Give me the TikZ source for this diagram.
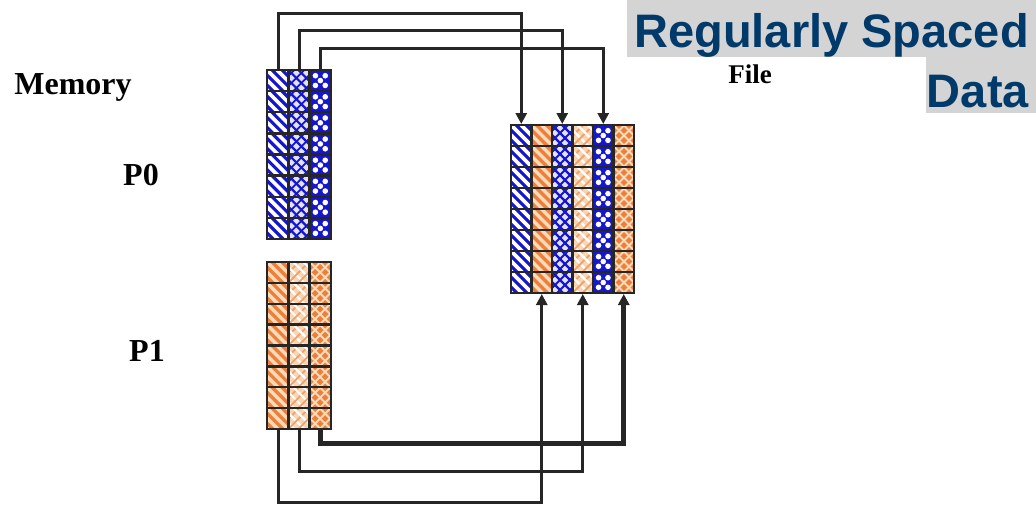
\documentclass[tikz,border=0pt]{standalone}
\usepackage{fontspec}
\setmainfont{Liberation Serif}
\newfontfamily\titlefont{Liberation Sans}
\usetikzlibrary{arrows.meta}
\definecolor{cblue}{RGB}{22,22,205}
\definecolor{clblue}{RGB}{225,225,252}
\definecolor{corange}{RGB}{236,128,58}
\definecolor{cpeach}{RGB}{248,214,180}
\definecolor{clorange}{RGB}{252,218,186}
\definecolor{ttl}{RGB}{0,58,107}
\definecolor{ttlbg}{RGB}{212,212,212}
\newcommand\cellbs[4]{%
  \fill[cblue] (#1,#2) rectangle ++(#3,#4);
  \begin{scope}\clip (#1,#2) rectangle ++(#3,#4);
  \foreach \k in {-30,-20,...,30} \draw[white,line width=3.6] ({#1+\k},{#2}) -- ++(#4,#4);
  \end{scope}}
\newcommand\cellbx[4]{%
  \fill[clblue] (#1,#2) rectangle ++(#3,#4);
  \begin{scope}\clip (#1,#2) rectangle ++(#3,#4);
  \foreach \k in {-30,-20,...,30} {\draw[cblue,line width=2.2] ({#1+\k},{#2}) -- ++(#4,#4);
    \draw[cblue,line width=1.8] ({#1+\k+5},{#2+#4}) -- ++(#4,{-#4});}
  \end{scope}}
\newcommand\cellbd[4]{%
  \fill[cblue] (#1,#2) rectangle ++(#3,#4);
  \foreach \u/\v in {.27/.27,.73/.27,.27/.73,.73/.73,.5/.5}
    \fill[white] ({#1+\u*#3},{#2+\v*#4}) circle[radius=2.8];}
\newcommand\cellos[4]{%
  \fill[corange] (#1,#2) rectangle ++(#3,#4);
  \begin{scope}\clip (#1,#2) rectangle ++(#3,#4);
  \foreach \k in {-30,-20,...,30} \draw[clorange,line width=3.4] ({#1+\k},{#2}) -- ++(#4,#4);
  \end{scope}}
\newcommand\cellop[4]{%
  \fill[cpeach] (#1,#2) rectangle ++(#3,#4);
  \begin{scope}\clip (#1,#2) rectangle ++(#3,#4);
  \foreach \k in {-30,-20,...,30} {\draw[corange!75,line width=1.8] ({#1+\k},{#2+#4}) -- ++(#4,{-#4});
    \draw[white,line width=2.2] ({#1+\k+5},{#2}) -- ++(#4,#4);}
  \end{scope}}
\newcommand\cellox[4]{%
  \fill[corange] (#1,#2) rectangle ++(#3,#4);
  \begin{scope}\clip (#1,#2) rectangle ++(#3,#4);
  \foreach \k in {-30,-20,...,30} {\draw[clorange,line width=1.9] ({#1+\k},{#2}) -- ++(#4,#4);
    \draw[clorange,line width=1.9] ({#1+\k},{#2+#4}) -- ++(#4,{-#4});}
  \end{scope}}
\tikzset{
  grid line/.style={line width=2.4,black!85},
  conn/.style={line width=3,black!85,-{Triangle[width=11pt,length=11pt]}},
  connb/.style={conn,line width=5},
  lbl/.style={font=\bfseries\fontsize{32}{32}\selectfont,inner sep=0pt},
  blockarea/.style={rectangle,inner sep=0pt,anchor=north west}
}
\begin{document}
\begin{tikzpicture}[x=1pt,y=-1pt]
\useasboundingbox (0,0) rectangle (1036,504);
% title
\fill[ttlbg] (627,0) rectangle (1036,57);
\fill[ttlbg] (926,57) rectangle (1036,113);
\node[anchor=base east,inner sep=0pt,text=ttl,font=\titlefont\bfseries\fontsize{47}{47}\selectfont] (t1) at (1029,47) {Regularly Spaced};
\node[anchor=base east,inner sep=0pt,text=ttl,font=\titlefont\bfseries\fontsize{47}{47}\selectfont] (t2) at (1029,107) {Data};
% labels
\node[lbl] (memlbl) at (73,87) {Memory};
\node[lbl] (p0) at (141,175) {P0};
\node[lbl] (p1) at (147,351) {P1};
\node[lbl,font=\bfseries\fontsize{27}{27}\selectfont] (filelbl) at (750,74) {File};
% block areas
\node[blockarea,minimum width=64pt,minimum height=169pt] (mem0) at (267,70) {};
\node[blockarea,minimum width=64pt,minimum height=167pt] (mem1) at (267,262) {};
\node[blockarea,minimum width=123pt,minimum height=168pt] (file) at (511,125) {};
% memory P0
\foreach \r in {0,...,7}{
  \cellbs{267}{70+\r*21.125}{21.33}{21.125}
  \cellbx{288.33}{70+\r*21.125}{21.33}{21.125}
  \cellbd{309.67}{70+\r*21.125}{21.33}{21.125}
}
\draw[grid line] (267,70) rectangle (331,239);
\foreach \c in {1,2} \draw[grid line] ({267+\c*21.33},70) -- ({267+\c*21.33},239);
\foreach \r in {1,...,7} \draw[grid line] (267,{70+\r*21.125}) -- (331,{70+\r*21.125});
% memory P1
\foreach \r in {0,...,7}{
  \cellos{267}{262+\r*20.875}{21.33}{20.875}
  \cellop{288.33}{262+\r*20.875}{21.33}{20.875}
  \cellox{309.67}{262+\r*20.875}{21.33}{20.875}
}
\draw[grid line] (267,262) rectangle (331,429);
\foreach \c in {1,2} \draw[grid line] ({267+\c*21.33},262) -- ({267+\c*21.33},429);
\foreach \r in {1,...,7} \draw[grid line] (267,{262+\r*20.875}) -- (331,{262+\r*20.875});
% file
\foreach \r in {0,...,7}{
  \cellbs{511}{125+\r*21}{20.5}{21}
  \cellos{531.5}{125+\r*21}{20.5}{21}
  \cellbx{552}{125+\r*21}{20.5}{21}
  \cellop{572.5}{125+\r*21}{20.5}{21}
  \cellbd{593}{125+\r*21}{20.5}{21}
  \cellox{613.5}{125+\r*21}{20.5}{21}
}
\draw[grid line] (511,125) rectangle (634,293);
\foreach \c in {1,...,5} \draw[grid line] ({511+\c*20.5},125) -- ({511+\c*20.5},293);
\foreach \r in {1,...,7} \draw[grid line] (511,{125+\r*21}) -- (634,{125+\r*21});
% connector end points
\coordinate (m0a) at (278,70);
\coordinate (m0b) at (299,70);
\coordinate (m0c) at (320,70);
\coordinate (m1a) at (278,429);
\coordinate (m1b) at (299,429);
\coordinate (m1c) at (320,429);
\coordinate (fa) at (521.25,124);
\coordinate (fb) at (562.25,124);
\coordinate (fc) at (603.25,124);
\coordinate (fd) at (541.75,294);
\coordinate (fe) at (582.75,294);
\coordinate (ff) at (623.75,294);
% connectors
\draw[conn] (m0a) -- ++(0,-57) -| (fa);
\draw[conn] (m0b) -- ++(0,-40) -| (fb);
\draw[conn] (m0c) -- ++(0,-22) -| (fc);
\draw[conn] (m1a) -- ++(0,73) -| (fd);
\draw[conn] (m1b) -- ++(0,42) -| (fe);
\draw[connb] (m1c) -- ++(0,14) -| (ff);
\end{tikzpicture}
\end{document}
